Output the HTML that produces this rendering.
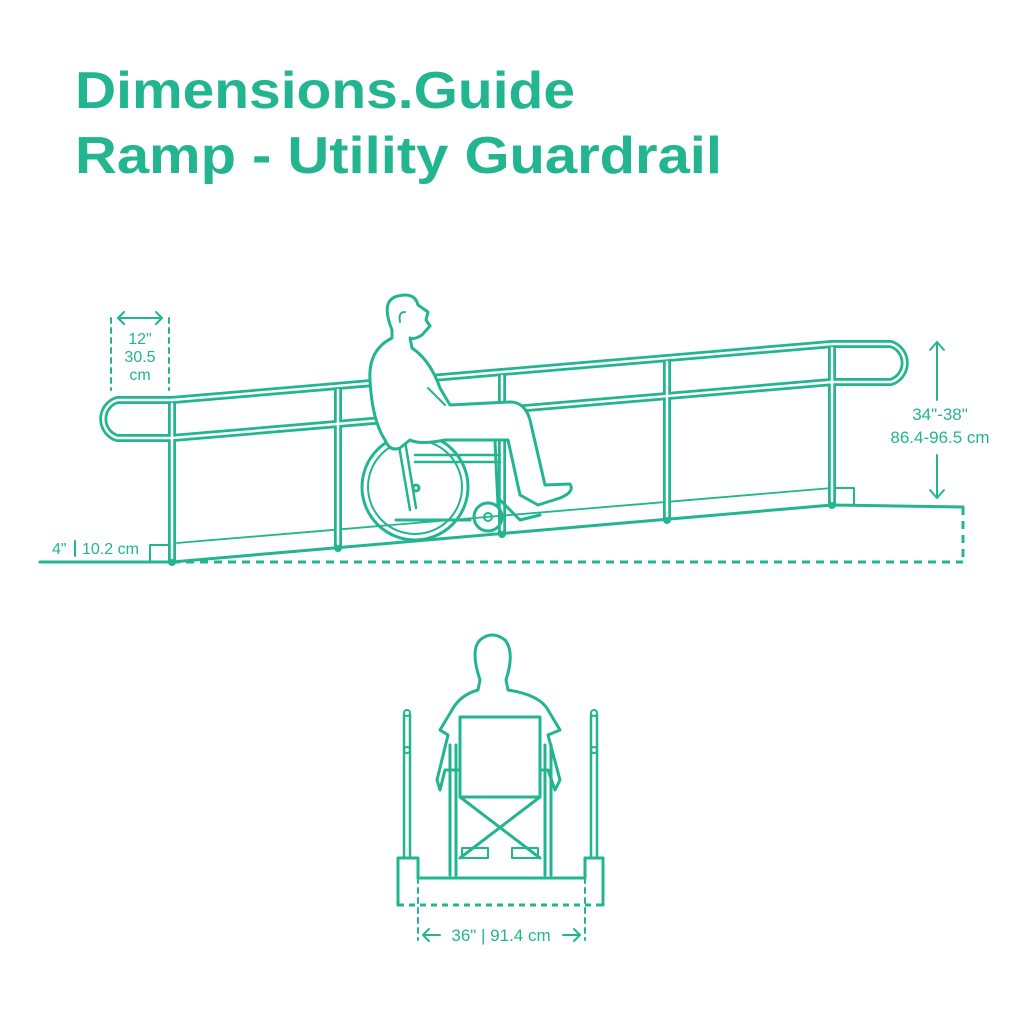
<!DOCTYPE html>
<html><head><meta charset="utf-8"><style>
html,body{margin:0;padding:0;background:#fff;}
svg{display:block}
</style></head><body>
<svg width="1024" height="1024" viewBox="0 0 1024 1024" xmlns="http://www.w3.org/2000/svg" font-family="Liberation Sans, sans-serif">
<rect width="1024" height="1024" fill="#fff"/>
<g fill="#22b590" font-weight="bold" font-size="52">
<text x="75" y="108" textLength="500" lengthAdjust="spacingAndGlyphs">Dimensions.Guide</text>
<text x="75" y="173" textLength="647" lengthAdjust="spacingAndGlyphs">Ramp - Utility Guardrail</text>
</g>
<g stroke="#22b590" fill="none" stroke-linecap="round" stroke-linejoin="round">
<line x1="40" y1="562" x2="172" y2="562" stroke-width="3"/>
<line x1="172" y1="562" x2="963" y2="562" stroke-width="3" stroke-dasharray="8 6" stroke-linecap="butt"/>
<line x1="963" y1="507" x2="963" y2="562" stroke-width="3" stroke-dasharray="8 6" stroke-linecap="butt"/>
<path d="M172 562 L832 505 L963 507" stroke-width="3"/>
<line x1="177" y1="543" x2="832" y2="488" stroke-width="1.8"/>
<path d="M150 562 V545 H168" stroke-width="2"/>
<path d="M836 488 H854 V505" stroke-width="2"/>
<g stroke-width="8">
<path d="M172 400 H117 A20 20 0 0 0 117 438 H172"/>
<path d="M172 400 L832 344 H891 A20 20 0 0 1 891 382 H832"/>
<path d="M172 438 L832 382"/>
<path d="M172 400 V562 M338 386 V548 M502 372 V534 M667 358 V520 M832 344 V505"/>
</g>
<g stroke="#fff" stroke-width="2.5">
<path d="M172 400 H117 A20 20 0 0 0 117 438 H172"/>
<path d="M172 400 L832 344 H891 A20 20 0 0 1 891 382 H832"/>
<path d="M172 438 L832 382"/>
<path d="M172 404 V558 M338 390 V544 M502 376 V530 M667 362 V516 M832 348 V501"/>
</g>
<g stroke-width="2">
<line x1="111" y1="318" x2="111" y2="390" stroke-dasharray="5 5"/>
<line x1="169" y1="318" x2="169" y2="390" stroke-dasharray="5 5"/>
<path d="M118 318 H162 M124 312 L118 318 L124 324 M156 312 L162 318 L156 324"/>
<line x1="75" y1="541" x2="75" y2="556"/>
<path d="M937 342 V400 M930 350 L937 342 L944 350 M937 455 V498 M930 490 L937 498 L944 490"/>
</g>
<g stroke-width="3">
<circle cx="415" cy="487" r="53"/>
<circle cx="415" cy="487" r="47" stroke-width="2"/>
<circle cx="488" cy="517" r="14"/>
<circle cx="488" cy="517" r="4" stroke-width="2"/>
<path d="M388 382 L410 510 M395 380 L416 508" stroke-width="2.5"/>
<path d="M413 412 H488 Q494 412 494 420 L498 505" stroke-width="3"/>
<path d="M415 455 H500 M415 462 H500" stroke-width="2.5"/>
<path d="M396 520 H470" stroke-width="3"/>
<circle cx="416" cy="488" r="3"/>
<path d="M500 500 L520 520 L540 515"/>
<path d="M392 330 Q380 300 398 296 Q415 292 418 305 L428 312 L426 320 L430 326 L422 335 Q414 340 410 338 L412 348 Q430 360 440 388 L450 405 L510 402 Q525 402 530 420 L545 485 L570 484 Q575 492 560 498 L538 505 L520 495 L508 440 L445 440 Q420 445 410 440 L400 448 Q390 452 385 440 Q372 420 370 380 Q368 350 392 338 Z" stroke-width="3" fill="#fff"/>
<path d="M405 312 Q398 312 400 322" stroke-width="2"/>
<path d="M428 388 L445 405" stroke-width="2"/>
</g>
<g stroke-width="3">
<path d="M404 715 V858 M410 715 V858 M591 715 V858 M597 715 V858" stroke-width="2.5"/>
<circle cx="407" cy="713" r="3" stroke-width="2"/><circle cx="407" cy="750" r="3" stroke-width="2"/>
<circle cx="594" cy="713" r="3" stroke-width="2"/><circle cx="594" cy="750" r="3" stroke-width="2"/>
<path d="M398 905 V858 H418 V878 H585 V858 H603 V905"/>
<line x1="398" y1="905" x2="603" y2="905" stroke-dasharray="6 5" stroke-linecap="butt"/>
<line x1="418" y1="878" x2="418" y2="940" stroke-width="2" stroke-dasharray="5 5"/>
<line x1="585" y1="878" x2="585" y2="940" stroke-width="2" stroke-dasharray="5 5"/>
<path d="M423 935 H440 M429 929 L423 935 L429 941 M563 935 H580 M574 929 L580 935 L574 941" stroke-width="2"/>
<path d="M480 680 Q470 650 480 640 Q492 630 505 640 Q515 652 506 680 L508 690 Q540 695 548 710 L560 730 L548 735 L560 780 L555 790 L548 770 L445 770 L440 790 L437 780 L448 735 L440 730 L452 710 Q460 695 478 690 Z" fill="#fff"/>
<rect x="460" y="717" width="80" height="80" fill="#fff"/>
<path d="M450 745 V875 M456 745 V875 M545 745 V875 M551 745 V875" stroke-width="3"/>
<path d="M460 797 L540 858 M540 797 L460 858" stroke-width="3"/>
<path d="M462 848 H488 V858 H462 Z M512 848 H538 V858 H512 Z" stroke-width="2"/>
</g>
</g>
<g fill="#22b590" font-size="16">
<text x="140" y="344" text-anchor="middle">12"</text>
<text x="140" y="362" text-anchor="middle">30.5</text>
<text x="140" y="380" text-anchor="middle">cm</text>
<text x="52" y="554">4"</text>
<text x="82" y="554">10.2 cm</text>
<text x="940" y="420" text-anchor="middle" font-size="17">34"-38"</text>
<text x="940" y="443" text-anchor="middle" font-size="17">86.4-96.5 cm</text>
<text x="501" y="941" text-anchor="middle" font-size="17">36" | 91.4 cm</text>
</g>
</svg>
</body></html>
